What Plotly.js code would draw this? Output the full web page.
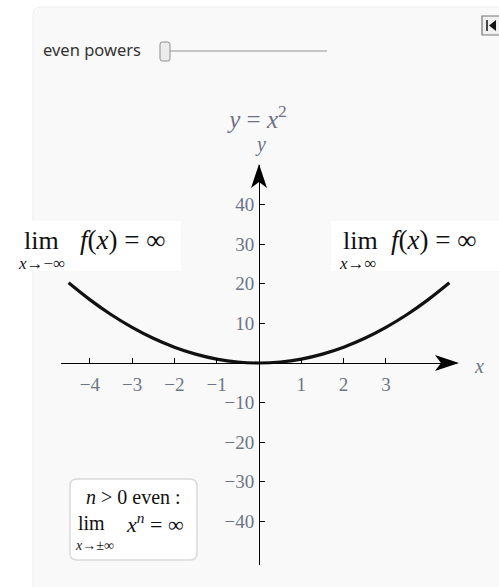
<!DOCTYPE html>
<html>
<head>
<meta charset="utf-8">
<script src="https://cdn.plot.ly/plotly-3.0.1.min.js"></script>
<style>
  html, body { margin: 0; padding: 0; background: #ffffff; }
  #chart { width: 499px; height: 587px; }
</style>
</head>
<body>
<div id="chart"></div>
<script>
// Sample points of the parabola y = x^2 on [-4.5, 4.5]
const curveX = [-4.5, -4, -3.5, -3, -2.5, -2, -1.5, -1, -0.5, 0, 0.5, 1, 1.5, 2, 2.5, 3, 3.5, 4, 4.5];
const curveY = [20.25, 16, 12.25, 9, 6.25, 4, 2.25, 1, 0.25, 0, 0.25, 1, 2.25, 4, 6.25, 9, 12.25, 16, 20.25];

// Axis ticks
const xTickVals = [-4, -3, -2, -1, 1, 2, 3];
const xTickText = ['\u22124', '\u22123', '\u22122', '\u22121', '1', '2', '3'];
const yTickVals = [-40, -30, -20, -10, 10, 20, 30, 40];
const yTickText = ['\u221240', '\u221230', '\u221220', '\u221210', '10', '20', '30', '40'];

const W = 499, H = 587;
// pixel -> paper helpers (margins are zero, so paper == page)
const px = v => v / W;
const py = v => 1 - v / H;
const pt = (x, y) => px(x).toFixed(5) + ',' + py(y).toFixed(5);

const SERIF = '"Liberation Serif", "Times New Roman", serif';
const SANS = '"Noto Sans", "Open Sans", sans-serif';
const TICK_COLOR = '#6c7486';

const trace = {
  x: curveX,
  y: curveY,
  type: 'scatter',
  mode: 'lines',
  line: { color: '#111111', width: 3.2, shape: 'spline', smoothing: 1 },
  hoverinfo: 'skip'
};

function roundRect(x0, y0, x1, y1, r) {
  return 'M' + pt(x0 + r, y0) + ' L' + pt(x1 - r, y0) + ' Q' + pt(x1, y0) + ' ' + pt(x1, y0 + r) +
    ' L' + pt(x1, y1 - r) + ' Q' + pt(x1, y1) + ' ' + pt(x1 - r, y1) +
    ' L' + pt(x0 + r, y1) + ' Q' + pt(x0, y1) + ' ' + pt(x0, y1 - r) +
    ' L' + pt(x0, y0 + r) + ' Q' + pt(x0, y0) + ' ' + pt(x0 + r, y0) + ' Z';
}

const shapes = [
  // control panel background
  { type: 'path', xref: 'paper', yref: 'paper', layer: 'below',
    path: 'M' + pt(33, 590) + ' L' + pt(33, 15) + ' Q' + pt(33, 7) + ' ' + pt(41, 7) + ' L' + pt(502, 7) + ' L' + pt(502, 590) + ' Z',
    fillcolor: '#f9f9f9', line: { color: '#eeeeee', width: 1 } },
  // slider track
  { type: 'line', xref: 'paper', yref: 'paper', x0: px(168), x1: px(327), y0: py(51), y1: py(51),
    line: { color: '#b4b4b4', width: 1.5 } },
  // slider thumb
  { type: 'path', xref: 'paper', yref: 'paper', path: roundRect(160, 42, 170, 61, 2.5),
    fillcolor: '#ececec', line: { color: '#8e8e8e', width: 1 } },
  // corner button
  { type: 'rect', xref: 'paper', yref: 'paper', x0: px(482), x1: px(502), y0: py(16), y1: py(35),
    fillcolor: '#f0f0f0', line: { color: '#777777', width: 1.2 } },
  { type: 'line', xref: 'paper', yref: 'paper', x0: px(487), x1: px(487), y0: py(20), y1: py(31),
    line: { color: '#111111', width: 1.5 } },
  { type: 'path', xref: 'paper', yref: 'paper', path: 'M' + pt(489, 25.5) + ' L' + pt(496, 20) + ' L' + pt(496, 31) + ' Z',
    fillcolor: '#111111', line: { width: 0 } },
  // white backdrops behind the limit labels
  { type: 'rect', xref: 'paper', yref: 'paper', x0: px(4), x1: px(181), y0: py(221), y1: py(271),
    fillcolor: '#ffffff', line: { width: 0 } },
  { type: 'rect', xref: 'paper', yref: 'paper', x0: px(331), x1: px(502), y0: py(221), y1: py(271),
    fillcolor: '#ffffff', line: { width: 0 } },
  // arrowheads on the axes
  { type: 'path', xref: 'paper', yref: 'paper', layer: 'above',
    path: 'M' + pt(459, 363) + ' L' + pt(435, 355) + ' L' + pt(441, 363) + ' L' + pt(435, 371) + ' Z',
    fillcolor: '#000000', line: { width: 0 } },
  { type: 'path', xref: 'paper', yref: 'paper', layer: 'above',
    path: 'M' + pt(259, 164) + ' L' + pt(251, 188) + ' L' + pt(259, 182) + ' L' + pt(267, 188) + ' Z',
    fillcolor: '#000000', line: { width: 0 } },
  // legend box
  { type: 'path', xref: 'paper', yref: 'paper', path: roundRect(70, 479, 197, 560, 7),
    fillcolor: '#ffffff', line: { color: '#d9d9d9', width: 1.5 } }
];

function note(x, y, text, size, opts) {
  return Object.assign({
    xref: 'paper', yref: 'paper', x: px(x), y: py(y), text: text, showarrow: false,
    xanchor: 'left', yanchor: 'middle',
    font: { family: SERIF, size: size, color: '#111111' }
  }, opts || {});
}

const annotations = [
  note(41, 50, 'even powers', 16.5, { font: { family: SANS, size: 16.5, color: '#333333' } }),
  note(260, 145, '<i>y</i>', 20, { xanchor: 'center', font: { family: SERIF, size: 20, color: TICK_COLOR } }),
  note(472, 366, '<i>x</i>', 20, { font: { family: SERIF, size: 20, color: TICK_COLOR } }),
  // left limit
  note(41, 240, 'lim', 26, { xanchor: 'center' }),
  note(41, 263, '<i>x</i>\u2192\u2212\u221e', 17, { xanchor: 'center' }),
  note(78, 240, '<i>f</i>(<i>x</i>) = \u221e', 27),
  // right limit
  note(360, 240, 'lim', 26, { xanchor: 'center' }),
  note(358, 263, '<i>x</i>\u2192\u221e', 17, { xanchor: 'center' }),
  note(389, 240, '<i>f</i>(<i>x</i>) = \u221e', 27),
  // legend box
  note(133, 497, '<i>n</i> &gt; 0 even :', 20, { xanchor: 'center' }),
  note(91, 523, 'lim', 20, { xanchor: 'center' }),
  note(94, 545, '<i>x</i>\u2192\u00b1\u221e', 14, { xanchor: 'center' }),
  note(124, 523, '<i>x</i><sup><i>n</i></sup> = \u221e', 22)
];

const layout = {
  width: W,
  height: 587,
  margin: { l: 0, r: 0, t: 0, b: 0, pad: 0 },
  paper_bgcolor: '#ffffff',
  plot_bgcolor: 'rgba(0,0,0,0)',
  showlegend: false,
  title: {
    text: '<i>y</i> = <i>x</i><sup>2</sup>',
    x: px(258), xanchor: 'center', y: py(119), yanchor: 'middle',
    font: { family: SERIF, size: 25, color: TICK_COLOR }
  },
  xaxis: {
    domain: [px(61), px(457)],
    range: [-4.68, 4.68],
    anchor: 'free',
    position: py(363),
    showline: true, linecolor: '#000000', linewidth: 1.2,
    showgrid: false, zeroline: false,
    ticks: 'inside', ticklen: 5, tickwidth: 1, tickcolor: '#000000',
    tickvals: xTickVals, ticktext: xTickText,
    ticklabelstandoff: 4,
    tickfont: { family: SERIF, size: 19, color: TICK_COLOR },
    fixedrange: true
  },
  yaxis: {
    domain: [py(565), py(165)],
    range: [-51, 50],
    anchor: 'free',
    position: px(259),
    showline: true, linecolor: '#000000', linewidth: 1.2,
    showgrid: false, zeroline: false,
    ticks: 'inside', ticklen: 5, tickwidth: 1, tickcolor: '#000000',
    tickvals: yTickVals, ticktext: yTickText,
    ticklabelstandoff: 1,
    tickfont: { family: SERIF, size: 19, color: TICK_COLOR },
    fixedrange: true
  },
  shapes: shapes,
  annotations: annotations
};

Plotly.newPlot('chart', [trace], layout, { displayModeBar: false, staticPlot: true });
</script>
</body>
</html>
